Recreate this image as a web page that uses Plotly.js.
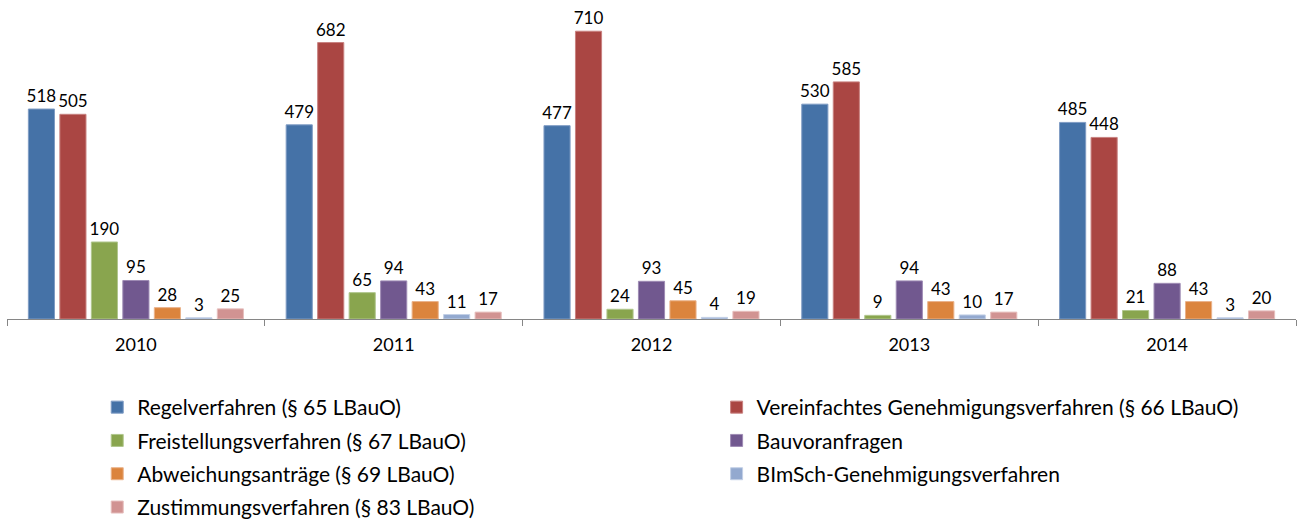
<!DOCTYPE html>
<html>
<head>
<meta charset="utf-8">
<script src="https://cdn.plot.ly/plotly-3.0.1.min.js"></script>
<style>
	body { margin: 0; background: #fff; }
	#chart { width: 1301px; height: 520px; }
</style>
</head>
<body>
<div id="chart"></div>
<script>
var years = ['2010', '2011', '2012', '2013', '2014']

var seriesNames = [
	'Regelverfahren (§ 65 LBauO)',
	'Vereinfachtes Genehmigungsverfahren (§ 66 LBauO)',
	'Freistellungsverfahren (§ 67 LBauO)',
	'Bauvoranfragen',
	'Abweichungsanträge (§ 69 LBauO)',
	'BImSch-Genehmigungsverfahren',
	'Zustimmungsverfahren (§ 83 LBauO)'
]

var regel = [518, 479, 477, 530, 485]
var vereinfacht = [505, 682, 710, 585, 448]
var freistellung = [190, 65, 24, 9, 21]
var bauvoranfragen = [95, 94, 93, 94, 88]
var abweichung = [28, 43, 45, 43, 43]
var bimsch = [3, 11, 4, 10, 3]
var zustimmung = [25, 17, 19, 17, 20]

var colors = ['#4572A7', '#AA4643', '#89A54E', '#71588F', '#DB843D', '#93A9CF', '#D19392']
var edges = ['#7f9cc4', '#c98280', '#b0c68d', '#9e8bb4', '#eab28a', '#c3d0e6', '#e6bebd']

// legend: left column gets 0,2,4,6 ; right column 1,3,5
var values = [regel, vereinfacht, freistellung, bauvoranfragen, abweichung, bimsch, zustimmung]

var data = values.map(function(vals, i){
	return {
		type: 'bar',
		name: seriesNames[i],
		x: years,
		y: vals,
		text: vals.map(String),
		textposition: 'outside',
		constraintext: 'none',
		cliponaxis: false,
		textfont: {color: '#000', size: 17, family: 'Lato, sans-serif'},
		marker: {color: colors[i], line: {color: edges[i], width: 1}},
		legend: (i % 2 === 0) ? 'legend' : 'legend2',
		legendgroup: 'g' + i,
		hoverinfo: 'none'
	}
})

var legendFont = {size: 21, family: 'Lato, sans-serif', color: '#000'}

var layout = {
	width: 1301,
	height: 520,
	margin: {l: 7, r: 5, t: 15, b: 201},
	paper_bgcolor: '#fff',
	plot_bgcolor: '#fff',
	barmode: 'group',
	bargap: 0.145,
	bargroupgap: 0.17,
	font: {family: 'Lato, sans-serif', size: 16, color: '#000'},
	xaxis: {
		type: 'category',
		automargin: false,
		showline: true,
		linecolor: '#868686',
		linewidth: 1,
		ticks: 'outside',
		tickson: 'boundaries',
		ticklen: 6,
		tickcolor: '#868686',
		ticklabelstandoff: 9,
		tickfont: {size: 18, family: 'Lato, sans-serif', color: '#000'},
		showgrid: false,
		zeroline: false,
		fixedrange: true
	},
	yaxis: {
		range: [0, 750],
		visible: false,
		automargin: false,
		showgrid: false,
		zeroline: false,
		fixedrange: true
	},
	legend: {
		orientation: 'v',
		xref: 'paper',
		yref: 'container',
		x: 0.07,
		y: 0.2558,
		xanchor: 'left',
		yanchor: 'top',
		font: legendFont,
		tracegroupgap: 3,
		traceorder: 'grouped',
		itemclick: false
	},
	legend2: {
		orientation: 'v',
		xref: 'paper',
		yref: 'container',
		x: 0.5505,
		y: 0.2558,
		xanchor: 'left',
		yanchor: 'top',
		font: legendFont,
		tracegroupgap: 3,
		traceorder: 'grouped',
		itemclick: false
	},
	showlegend: true
}

Plotly.newPlot('chart', data, layout, {displayModeBar: false, staticPlot: true})
</script>
</body>
</html>
